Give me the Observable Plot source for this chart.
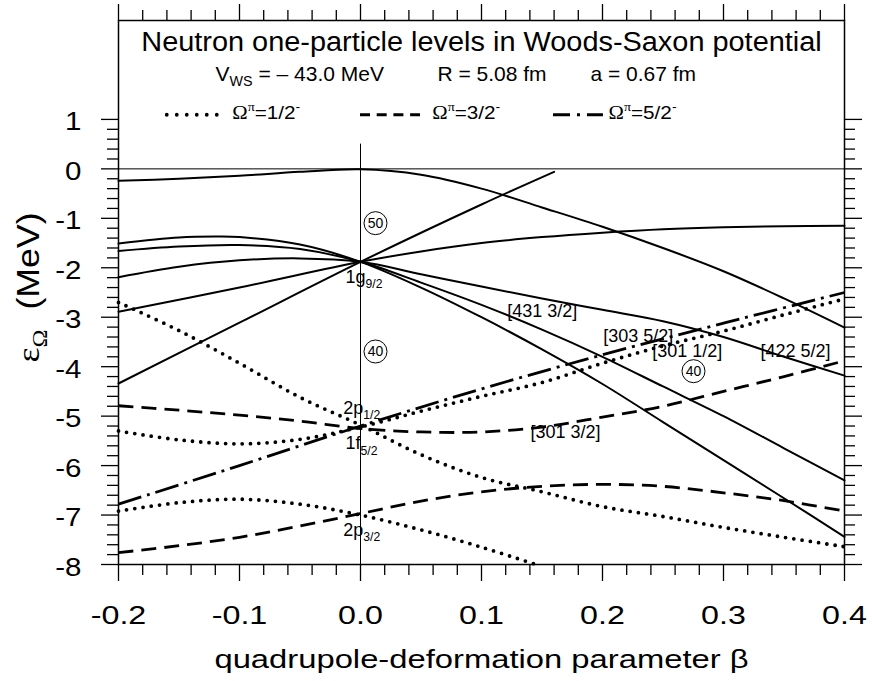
<!DOCTYPE html>
<html><head><meta charset="utf-8">
<script src="https://cdn.jsdelivr.net/npm/d3@7"></script>
<script src="https://cdn.jsdelivr.net/npm/@observablehq/plot@0.6"></script>
<style>body{margin:0;background:#fff}</style>
</head><body><div id="chart"></div>
<script>
// ---------- data (beta, energy in MeV) ----------
const xTicks = [-0.2, -0.1, 0, 0.1, 0.2, 0.3, 0.4];
const yTicks = [1, 0, -1, -2, -3, -4, -5, -6, -7, -8];

// positive parity, solid
const d_o1 = [[-0.2,-0.24],[-0.15,-0.20],[-0.1,-0.14],[-0.05,-0.06],[0,-0.01],[0.05,-0.12],[0.1,-0.40],[0.15,-0.78],[0.2,-1.17],[0.25,-1.60],[0.3,-2.07],[0.35,-2.62],[0.4,-3.21]];
const g9_o1 = [[-0.2,-1.51],[-0.15,-1.39],[-0.12,-1.37],[-0.1,-1.38],[-0.05,-1.53],[0,-1.88],[0.05,-2.40],[0.1,-3.00],[0.15,-3.65],[0.2,-4.35],[0.25,-5.12],[0.3,-5.89],[0.35,-6.66],[0.4,-7.44]];
const g9_o3 = [[-0.2,-1.66],[-0.15,-1.57],[-0.1,-1.54],[-0.05,-1.62],[0,-1.88],[0.05,-2.30],[0.1,-2.75],[0.15,-3.25],[0.2,-3.80],[0.25,-4.40],[0.3,-5.00],[0.35,-5.65],[0.4,-6.30]];
const g9_o5 = [[-0.2,-2.19],[-0.15,-1.98],[-0.1,-1.85],[-0.05,-1.81],[0,-1.88],[0.05,-2.13],[0.1,-2.38],[0.15,-2.62],[0.2,-2.85],[0.25,-3.08],[0.3,-3.40],[0.35,-3.80],[0.4,-4.18]];
const g9_o7 = [[-0.2,-2.89],[-0.1,-2.40],[0,-1.88],[0.05,-1.67],[0.1,-1.50],[0.15,-1.38],[0.2,-1.29],[0.25,-1.22],[0.3,-1.18],[0.35,-1.16],[0.4,-1.15]];
const g9_o9 = [[-0.2,-4.34],[-0.1,-3.11],[0,-1.88],[0.1,-0.72],[0.16,-0.06]];
// negative parity, Omega = 1/2 (dotted)
const n_o1_a = [[-0.2,-2.70],[-0.15,-3.27],[-0.1,-3.93],[-0.05,-4.62],[0,-5.18],[0.05,-5.78],[0.1,-6.24],[0.15,-6.53],[0.2,-6.83],[0.25,-7.03],[0.3,-7.25],[0.35,-7.45],[0.4,-7.64]];
const n_o1_b = [[-0.2,-5.30],[-0.15,-5.48],[-0.1,-5.56],[-0.05,-5.47],[0,-5.22],[0.05,-4.90],[0.1,-4.60],[0.15,-4.32],[0.2,-3.93],[0.25,-3.58],[0.3,-3.28],[0.35,-2.95],[0.4,-2.63]];
const n_o1_c = [[-0.2,-6.92],[-0.15,-6.75],[-0.1,-6.68],[-0.05,-6.78],[0,-7.00],[0.05,-7.30],[0.1,-7.65],[0.145,-8.0]];
// Omega = 3/2 (dashed)
const n_o3_a = [[-0.2,-4.79],[-0.15,-4.88],[-0.1,-4.98],[-0.05,-5.10],[0,-5.25],[0.05,-5.32],[0.1,-5.32],[0.15,-5.22],[0.2,-5.02],[0.25,-4.80],[0.3,-4.50],[0.35,-4.20],[0.4,-3.88]];
const n_o3_b = [[-0.2,-7.76],[-0.15,-7.62],[-0.1,-7.45],[-0.05,-7.22],[0,-6.97],[0.05,-6.72],[0.1,-6.53],[0.15,-6.42],[0.2,-6.38],[0.25,-6.42],[0.3,-6.55],[0.35,-6.71],[0.4,-6.92]];
// Omega = 5/2 (dash-dot)
const n_o5_a = [[-0.2,-6.78],[-0.1,-6.00],[0,-5.20],[0.1,-4.45],[0.2,-3.76],[0.3,-3.12],[0.4,-2.50]];

const orbitalLabels = ["1g_{9/2}", "[431 3/2]", "[303 5/2]", "[301 1/2]", "[422 5/2]", "[301 3/2]", "2p_{1/2}", "1f_{5/2}", "2p_{3/2}"];
const orbitalBeta   = [-0.0124, 0.1212, 0.2006, 0.2411, 0.3306, 0.1405, -0.0143, -0.0124, -0.0143];
const orbitalE      = [-2.31, -3.00, -3.505, -3.81, -3.81, -5.44, -4.953, -5.674, -7.414];
const magicNumbers = ["50", "40", "40"];
const magicBeta    = [0.0124, 0.0124, 0.2752];
const magicE       = [-1.098, -3.693, -4.091];
const legendLabels = ["Ω^{π}=1/2^{-}", "Ω^{π}=3/2^{-}", "Ω^{π}=5/2^{-}"];
const titleText = "Neutron one-particle levels in Woods-Saxon potential";
const paramTexts = ["V_{WS} = – 43.0 MeV", "R = 5.08 fm", "a = 0.67 fm"];
const xLabel = "quadrupole-deformation parameter β";
const yLabel = "ε_{Ω}\u00a0\u00a0(MeV)";

// ---------- helpers ----------
const rows = (curves) => curves.flatMap((c, i) => c.map(([b, e]) => ({b, e, k: i})));
const xMinor = d3.range(0, 31).map(i => -0.2 + i * 0.02).filter(v => Math.abs(v * 10 - Math.round(v * 10)) > 1e-6);
const yMinor = d3.range(0, 46).map(i => -8 + i * 0.2).filter(v => Math.abs(v - Math.round(v)) > 1e-6);

const DOT = {strokeWidth: 3.8, strokeDasharray: "0 8.3", strokeLinecap: "round"};
const DASH = {strokeWidth: 2.8, strokeDasharray: "15 8", strokeLinecap: "butt"};
const DASHDOT = {strokeWidth: 2.8, strokeDasharray: "24 6 3 6", strokeLinecap: "butt"};
const tk = {stroke: "black", strokeWidth: 1.3, fill: "none", label: null};

// legend layout (data units)
const legSampleX1 = [-0.1597, 0.0, 0.1595];
const legSampleX2 = [-0.1102, 0.0496, 0.2008];
const legTextX = [-0.106, 0.0593, 0.205];
const legStyles = [
  {strokeWidth: 3.8, strokeDasharray: "0 10", strokeLinecap: "round"},
  {strokeWidth: 2.8, strokeDasharray: "10 6.7", strokeLinecap: "butt"},
  {strokeWidth: 2.8, strokeDasharray: "17 7 3 7", strokeLinecap: "butt"}
];
const paramX = [-0.1198, 0.0636, 0.190];

const chart = Plot.plot({
  width: 872, height: 681,
  marginLeft: 118, marginRight: 28, marginTop: 20, marginBottom: 117,
  x: {domain: [-0.2, 0.4], label: null},
  y: {domain: [-8, 3], label: null},
  style: {fontFamily: "'Liberation Sans', Arial, sans-serif", fontSize: "18px", color: "black", background: "white"},
  marks: [
    Plot.ruleY([0], {stroke: "black", strokeWidth: 1}),
    Plot.ruleX([0], {y1: 0.5, y2: -8, stroke: "black", strokeWidth: 1}),
    Plot.line(rows([d_o1, g9_o1, g9_o3, g9_o5, g9_o7, g9_o9]), {x: "b", y: "e", z: "k", curve: "catmull-rom", stroke: "black", strokeWidth: 2}),
    Plot.line(rows([n_o1_a, n_o1_b, n_o1_c]), {x: "b", y: "e", z: "k", curve: "catmull-rom", stroke: "black", ...DOT}),
    Plot.line(rows([n_o3_a, n_o3_b]), {x: "b", y: "e", z: "k", curve: "catmull-rom", stroke: "black", ...DASH}),
    Plot.line(rows([n_o5_a]), {x: "b", y: "e", z: "k", curve: "catmull-rom", stroke: "black", ...DASHDOT}),
    // legend
    ...legendLabels.map((t, i) => Plot.ruleY([1.094], {x1: legSampleX1[i], x2: legSampleX2[i], stroke: "black", ...legStyles[i]})),
    Plot.text(legendLabels, {x: legTextX, y: 1.013, textAnchor: "start", lineAnchor: "bottom", fontSize: 18, ariaDescription: "legend"}),
    // titles
    Plot.text([titleText], {frameAnchor: "top", dy: 30, lineAnchor: "bottom", fontSize: 27, ariaDescription: "title"}),
    Plot.text(paramTexts, {x: paramX, frameAnchor: "top", dy: 60, lineAnchor: "bottom", textAnchor: "start", fontSize: 21}),
    // annotations
    Plot.text(orbitalLabels, {x: orbitalBeta, y: orbitalE, textAnchor: "start", lineAnchor: "bottom", fontSize: 18}),
    Plot.dot(magicNumbers, {x: magicBeta, y: magicE, r: 11.5, stroke: "black", strokeWidth: 1, fill: "white"}),
    Plot.text(magicNumbers, {x: magicBeta, y: magicE, fontSize: 14}),
    // axes ticks
    Plot.axisX(xTicks, {anchor: "bottom", tickSize: 17, ...tk}),
    Plot.axisX(xMinor, {anchor: "bottom", tickSize: 11, ...tk}),
    Plot.axisX(xTicks, {anchor: "top", tickSize: 17, ...tk}),
    Plot.axisX(xMinor, {anchor: "top", tickSize: 11, ...tk}),
    Plot.axisY(yTicks, {anchor: "left", tickSize: 17, ...tk}),
    Plot.axisY(yMinor, {anchor: "left", tickSize: 11, ...tk}),
    Plot.axisY(yTicks, {anchor: "right", tickSize: 17, ...tk}),
    Plot.axisY(yMinor, {anchor: "right", tickSize: 10, ...tk}),
    // tick labels
    Plot.axisX(xTicks, {anchor: "bottom", tickSize: 0, tickPadding: 41, tickFormat: d => d.toFixed(1), fontSize: 26, label: null, ariaDescription: "xlab"}),
    Plot.axisY(yTicks, {anchor: "left", tickSize: 0, tickPadding: 37, tickFormat: d => String(d), fontSize: 25, dy: 3, label: null, ariaDescription: "ylab"}),
    Plot.text([xLabel], {frameAnchor: "bottom", dy: 103, lineAnchor: "bottom", fontSize: 26, ariaDescription: "xtitle"}),
    Plot.text([yLabel], {frameAnchor: "left", dx: -80, dy: -5, rotate: -90, lineAnchor: "bottom", textAnchor: "middle", fontSize: 32, ariaDescription: "ytitle"}),
    Plot.frame({stroke: "black", strokeWidth: 1.5})
  ]
});
document.getElementById("chart").appendChild(chart);

// ---------- rich text: sub/superscripts and serif greek ----------
const SVGNS = "http://www.w3.org/2000/svg";
chart.querySelectorAll("text").forEach(t => {
  const s = t.textContent;
  if (!/[_^]\{/.test(s) && !/[Ωπε]/.test(s)) return;
  const fs = parseFloat(getComputedStyle(t).fontSize) || 18;
  const segs = [];
  let i = 0;
  while (i < s.length) {
    if ((s[i] === "_" || s[i] === "^") && s[i + 1] === "{") {
      const j = s.indexOf("}", i);
      segs.push({text: s.slice(i + 2, j), shift: s[i] === "_" ? 0.28 * fs : -0.42 * fs, small: true});
      i = j + 1;
    } else {
      let j = i;
      while (j < s.length && !((s[j] === "_" || s[j] === "^") && s[j + 1] === "{")) j++;
      segs.push({text: s.slice(i, j), shift: 0, small: false});
      i = j;
    }
  }
  t.textContent = "";
  let cur = 0;
  for (const seg of segs) {
    const runs = seg.text.match(/[Ωπε]+|[^Ωπε]+/g) || [];
    for (const run of runs) {
      const ts = document.createElementNS(SVGNS, "tspan");
      ts.textContent = run;
      if (seg.shift !== cur) { ts.setAttribute("dy", (seg.shift - cur).toFixed(2)); cur = seg.shift; }
      if (seg.small) ts.setAttribute("font-size", (fs * 0.68).toFixed(1));
      if (/[Ωπε]/.test(run)) ts.setAttribute("font-family", "'Liberation Serif', 'Times New Roman', serif");
      t.appendChild(ts);
    }
  }
});

// ---------- horizontal stretch to match the reference lettering ----------
function stretch(desc, k, fixed) {
  chart.querySelectorAll(`g[aria-description="${desc}"] text`).forEach(t => {
    const w = fixed || t.getComputedTextLength() * k;
    t.setAttribute("textLength", w.toFixed(1));
    t.setAttribute("lengthAdjust", "spacingAndGlyphs");
  });
}
stretch("xlab", 1.24);
stretch("ylab", 1.18);
stretch("xtitle", 1.26);
stretch("title", 1.07);
stretch("legend", 1.15);
stretch("ytitle", 1, 150);
</script></body></html>
